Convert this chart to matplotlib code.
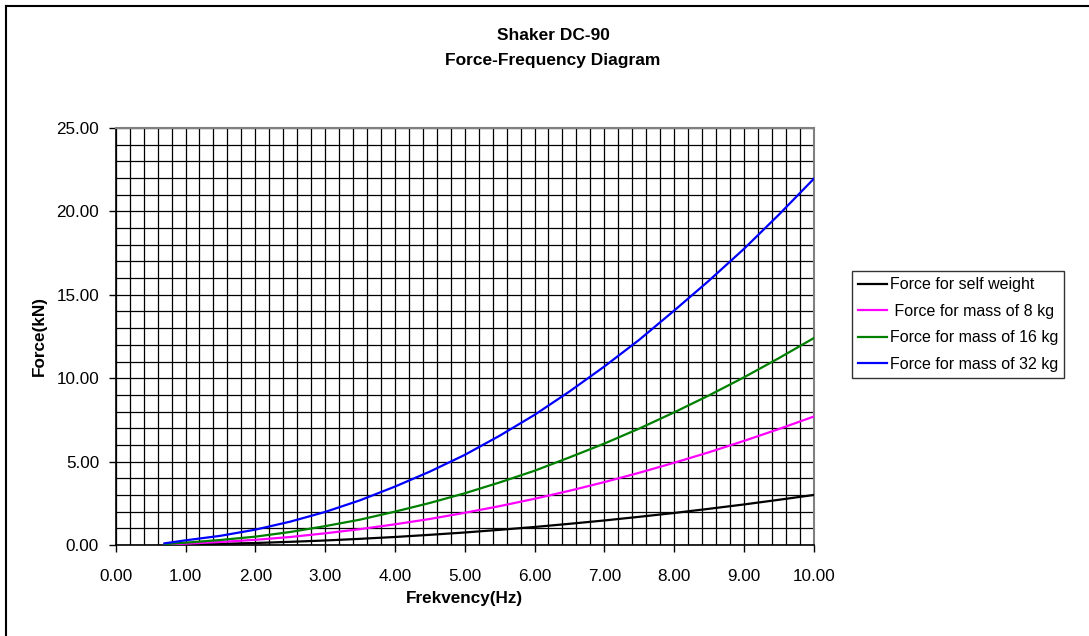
import matplotlib
matplotlib.use("Agg")
import matplotlib.pyplot as plt
from matplotlib.ticker import MultipleLocator, FormatStrFormatter
from matplotlib.lines import Line2D

plt.rcParams['font.family'] = ['Liberation Sans', 'DejaVu Sans']

# Frequency (Hz)
freq = [0.7, 1.0, 1.5, 2.0, 2.5, 3.0, 3.5, 4.0, 4.5, 5.0,
        5.5, 6.0, 6.5, 7.0, 7.5, 8.0, 8.5, 9.0, 9.5, 10.0]
# Force (kN)
force_self = [0.01, 0.03, 0.07, 0.12, 0.19, 0.27, 0.37, 0.48, 0.61, 0.75,
              0.91, 1.08, 1.27, 1.47, 1.69, 1.92, 2.17, 2.43, 2.71, 3.00]
force_8kg = [0.03, 0.08, 0.18, 0.31, 0.48, 0.70, 0.95, 1.24, 1.56, 1.93,
             2.33, 2.77, 3.25, 3.77, 4.33, 4.93, 5.56, 6.24, 6.95, 7.70]
force_16kg = [0.05, 0.14, 0.30, 0.50, 0.78, 1.13, 1.52, 2.00, 2.52, 3.10,
              3.75, 4.45, 5.25, 6.08, 6.98, 7.95, 8.97, 10.05, 11.20, 12.40]
force_32kg = [0.10, 0.28, 0.55, 0.92, 1.40, 1.98, 2.68, 3.50, 4.40, 5.40,
              6.55, 7.80, 9.20, 10.70, 12.30, 14.05, 15.85, 17.75, 19.80, 21.95]

labels = ["Force for self weight", " Force for mass of 8 kg",
          "Force for mass of 16 kg", "Force for mass of 32 kg"]
colors = ["#000000", "#FF00FF", "#008000", "#0000FF"]

W, H = 1089, 636
fig = plt.figure(figsize=(W / 100, H / 100), dpi=100)
ax = fig.add_axes([115.7 / W, 1 - 545 / H, (813.7 - 115.7) / W, (545 - 128) / H])

series = [force_self, force_8kg, force_16kg, force_32kg]
handles = []
for ys, c, lab in zip(series, colors, labels):
    h, = ax.plot(freq, ys, color=c, lw=1.6, label=lab, zorder=3)
    handles.append(h)

ax.set_xlim(0, 10)
ax.set_ylim(0, 25)
ax.xaxis.set_major_locator(MultipleLocator(1))
ax.xaxis.set_minor_locator(MultipleLocator(0.2))
ax.yaxis.set_major_locator(MultipleLocator(5))
ax.yaxis.set_minor_locator(MultipleLocator(1))
ax.xaxis.set_major_formatter(FormatStrFormatter('%.2f'))
ax.yaxis.set_major_formatter(FormatStrFormatter('%.2f'))
ax.grid(True, which='both', color='black', lw=0.9, zorder=1)
ax.set_axisbelow(True)
ax.tick_params(axis='x', which='major', direction='out', length=5, width=1,
               labelsize=12.3, pad=12)
ax.tick_params(axis='y', which='major', direction='out', length=5, width=1,
               labelsize=12.3, pad=7)
ax.tick_params(which='minor', length=0)
for s in ['left', 'bottom']:
    ax.spines[s].set_color('black')
    ax.spines[s].set_linewidth(1.2)
for s in ['top', 'right']:
    ax.spines[s].set_color('#808080')
    ax.spines[s].set_linewidth(1.5)

ax.set_xlabel("Frekvency(Hz)", fontsize=12.3, fontweight='bold', labelpad=5)
ax.set_ylabel("Force(kN)", fontsize=12.3, fontweight='bold', labelpad=7)

fig.text(553 / W, 1 - 35 / H, "Shaker DC-90", ha='center', va='center',
         fontsize=12.5, fontweight='bold')
fig.text(553 / W, 1 - 60 / H, "Force-Frequency Diagram", ha='center', va='center',
         fontsize=12.5, fontweight='bold')

leg = fig.legend(handles=handles, labels=labels, loc='upper left',
                 bbox_to_anchor=(852 / W, 1 - 271 / H), fontsize=11.5,
                 frameon=True, fancybox=False, borderaxespad=0,
                 handlelength=1.8, handletextpad=0.15, labelspacing=0.72,
                 borderpad=0.4)
leg.get_frame().set_edgecolor('black')
leg.get_frame().set_linewidth(1.0)

# outer chart border (left and top edges visible)
fig.add_artist(Line2D([6 / W, 6 / W], [0, 1 - 6 / H], color='black', lw=1.5,
                      transform=fig.transFigure))
fig.add_artist(Line2D([6 / W, 1], [1 - 6 / H, 1 - 6 / H], color='black', lw=1.5,
                      transform=fig.transFigure))

fig.savefig("out.png", dpi=100)
